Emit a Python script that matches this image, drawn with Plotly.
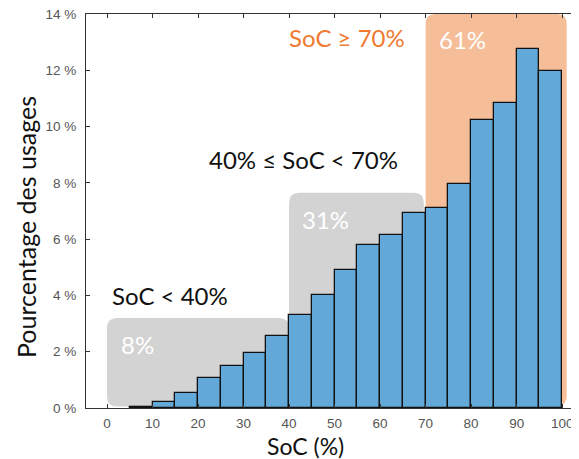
import plotly.graph_objects as go

# ---- data ----
bin_left = [5, 10, 15, 20, 25, 30, 35, 40, 45, 50, 55, 60, 65, 70, 75, 80, 85, 90, 95]
pct = [0.05, 0.22, 0.55, 1.07, 1.50, 1.94, 2.57, 3.31, 4.01, 4.91, 5.80, 6.14, 6.92, 7.09, 7.96, 10.25, 10.82, 12.74, 11.98]
bin_width = 5
x_ticks = [0, 10, 20, 30, 40, 50, 60, 70, 80, 90, 100]
y_ticks = [0, 2, 4, 6, 8, 10, 12, 14]

region_x0 = [0, 40, 70]
region_x1 = [40, 69.6, 101]
region_y0 = [0.05, 0.03, 0.07]
region_y1 = [3.2, 7.65, 14.0]
region_share = ["8%", "31%", "61%"]
region_label = ["SoC < 40%", "40% ≤ SoC < 70%", "SoC ≥ 70%"]

centers = [b + bin_width / 2 for b in bin_left]

# page body has an 8px default margin -> compensate
OFF = 8
W, H = 579 - OFF, 459 - OFF
ML, MR, MT, MB = 86 - OFF, 0, 14 - OFF, 51
PW = W - ML - MR
PH = H - MT - MB

fig = go.Figure()
fig.add_trace(go.Bar(
    x=centers, y=pct, width=[bin_width] * len(pct),
    marker=dict(color="#62A8D8", line=dict(color="#111111", width=1.3)),
    showlegend=False, hoverinfo="skip",
))

XR = [-4.62, 103.7]
YR = [0, 14]
px_per_x = PW / (XR[1] - XR[0])
px_per_y = PH / (YR[1] - YR[0])
rad = 10
fills = ["#D3D3D3", "#D3D3D3", "#F5BD98"]


def rounded(x0, x1, y0, y1):
    rx = rad / px_per_x
    ry = rad / px_per_y
    return (f"M {x0+rx},{y0} L {x1-rx},{y0} Q {x1},{y0} {x1},{y0+ry} "
            f"L {x1},{y1-ry} Q {x1},{y1} {x1-rx},{y1} L {x0+rx},{y1} "
            f"Q {x0},{y1} {x0},{y1-ry} L {x0},{y0+ry} Q {x0},{y0} {x0+rx},{y0} Z")


for i in range(3):
    fig.add_shape(type="path", path=rounded(region_x0[i], region_x1[i], region_y0[i], region_y1[i]),
                  xref="x", yref="y", fillcolor=fills[i], line=dict(width=0), layer="below")

tfont = "Lato, 'Open Sans', sans-serif"
share_pos = [(6.8, 2.24), (47.9, 6.69), (78.2, 13.1)]
for (sx, sy), t in zip(share_pos, region_share):
    fig.add_annotation(x=sx, y=sy, text=t, showarrow=False, xref="x", yref="y",
                       xanchor="center", yanchor="middle",
                       font=dict(family=tfont, size=24, color="white"))
label_pos = [(13.8, 3.99), (43.1, 8.83), (52.7, 13.17)]
label_col = ["#111111", "#111111", "#F07A30"]
for (lx, ly), t, c in zip(label_pos, region_label, label_col):
    fig.add_annotation(x=lx, y=ly, text=t, showarrow=False, xref="x", yref="y",
                       xanchor="center", yanchor="middle",
                       font=dict(family=tfont, size=24, color=c))

# axis titles (page-pixel positions converted to paper coords)
fig.add_annotation(x=(26 - 86) / PW, y=(459 - MB - 227) / PH, xref="paper", yref="paper",
                   text="Pourcentage des usages", textangle=-90, showarrow=False,
                   xanchor="center", yanchor="middle",
                   font=dict(family=tfont, size=25, color="#111111"))
fig.add_annotation(x=(305 - 86) / PW, y=(459 - MB - 446) / PH, xref="paper", yref="paper",
                   text="SoC (%)", showarrow=False, xanchor="center", yanchor="middle",
                   font=dict(family=tfont, size=23, color="#111111"))

fig.update_layout(
    width=W, height=H,
    margin=dict(l=ML, r=MR, t=MT, b=MB, autoexpand=False),
    plot_bgcolor="white", paper_bgcolor="white",
    bargap=0,
)

fig.update_xaxes(range=XR, tickvals=x_ticks, ticktext=[str(v) for v in x_ticks], automargin=False,
                 showgrid=False, zeroline=False, showline=True, linecolor="#333333", linewidth=1.2,
                 mirror="ticks", ticks="inside", ticklen=4, tickcolor="#333333",
                 tickfont=dict(family="Liberation Sans, Arial", size=13.5, color="#555555"),
                 ticklabelstandoff=3, ticklabeloverflow="allow")
fig.update_yaxes(range=YR, tickvals=y_ticks, ticktext=[f"{v} %" for v in y_ticks], automargin=False,
                 showgrid=False, zeroline=False, showline=True, linecolor="#333333", linewidth=1.2,
                 ticks="inside", ticklen=4, tickcolor="#333333",
                 tickfont=dict(family="Liberation Sans, Arial", size=13.5, color="#555555"),
                 ticklabelstandoff=6, ticklabeloverflow="allow")

fig.write_html("out.html")
